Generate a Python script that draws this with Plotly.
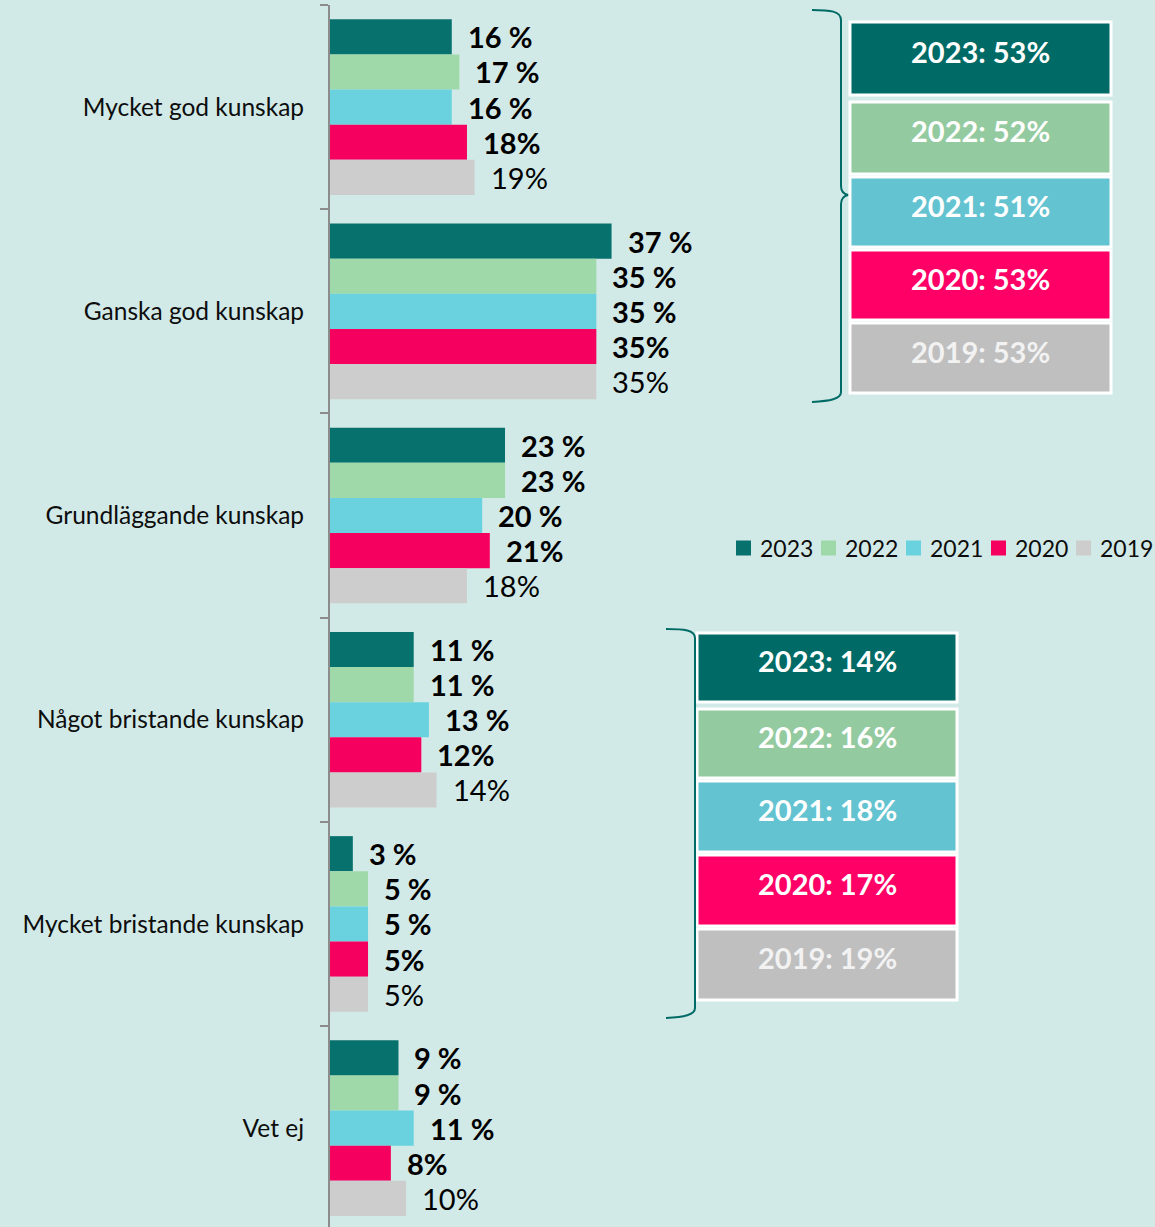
import plotly.graph_objects as go

# ---------------- data ----------------
categories = ["Mycket god kunskap", "Ganska god kunskap", "Grundläggande kunskap",
              "Något bristande kunskap", "Mycket bristande kunskap", "Vet ej"]
years = ["2023", "2022", "2021", "2020", "2019"]
v2023 = [16, 37, 23, 11, 3, 9]
v2022 = [17, 35, 23, 11, 5, 9]
v2021 = [16, 35, 20, 13, 5, 11]
v2020 = [18, 35, 21, 12, 5, 8]
v2019 = [19, 35, 18, 14, 5, 10]
series = [v2023, v2022, v2021, v2020, v2019]
label_fmt = ["{} %", "{} %", "{} %", "{}%", "{}%"]
label_bold = [True, True, True, True, False]

good_totals = [53, 52, 51, 53, 53]   # Mycket god + Ganska god
poor_totals = [14, 16, 18, 17, 19]   # Något + Mycket bristande

# ---------------- style ----------------
W, H = 1155, 1227
BG = "#D2EAE7"
bar_colors = ["#07716D", "#A0D9A9", "#6AD2DE", "#F5005E", "#CDCDCD"]
box_colors = ["#006B66", "#94CA9F", "#63C3D0", "#FF0066", "#BFBFBF"]
box_text_colors = ["#FFFFFF", "#FFFFFF", "#FFFFFF", "#FFFFFF", "#F2F2F2"]
FONT = "Lato"
AXIS_X = 330
PLOT_TOP = 5
X_MAX = (W - AXIS_X) / 7.61
Y_SPAN = 5.984
BARGAP = 0.14
cat_px = (H - PLOT_TOP) / Y_SPAN
bar_px = cat_px * (1 - BARGAP) / len(years)

# legend layout (pixels)
LEG_X0, LEG_STEP, LEG_Y, LEG_SQ, LEG_TXT_GAP = 736, 85, 548, 15, 22


def px(x):
    return x / W


def py(y):
    return 1 - y / H


fig = go.Figure()
for k, (yr, vals) in enumerate(zip(years, series)):
    fig.add_trace(go.Bar(
        y=categories, x=vals, orientation="h", name=yr, showlegend=False,
        marker=dict(color=bar_colors[k], line=dict(width=0)),
    ))

annotations = []
for k, vals in enumerate(series):
    for cat, v in zip(categories, vals):
        txt = label_fmt[k].format(v)
        if label_bold[k]:
            txt = "<b>" + txt + "</b>"
        annotations.append(dict(
            x=v, y=cat, xref="x", yref="y", text=txt, showarrow=False,
            xanchor="left", yanchor="middle", xshift=14,
            yshift=(2 - k) * bar_px,
            font=dict(family=FONT, size=29, color="#000000"),
        ))

shapes = []
# legend (squares + year labels)
for k, yr in enumerate(years):
    x0 = LEG_X0 + k * LEG_STEP
    shapes.append(dict(type="rect", xref="paper", yref="paper",
                       x0=px(x0), x1=px(x0 + LEG_SQ),
                       y0=py(LEG_Y + LEG_SQ / 2), y1=py(LEG_Y - LEG_SQ / 2),
                       fillcolor=bar_colors[k], line=dict(width=0)))
    annotations.append(dict(
        x=px(x0 + LEG_TXT_GAP), y=py(LEG_Y), xref="paper", yref="paper",
        text=yr, showarrow=False, xanchor="left", yanchor="middle",
        font=dict(family=FONT, size=23, color="#0D0D0D"),
    ))

# summary boxes
top_boxes = [(22, 95), (102, 174), (177, 247), (250, 320), (323, 393)]
bot_boxes = [(633, 702), (709, 778), (781, 852), (855, 926), (929, 1000)]
for (x0, x1, boxes, totals) in [(850, 1111, top_boxes, good_totals),
                                (697, 957, bot_boxes, poor_totals)]:
    for k, ((y0, y1), t) in enumerate(zip(boxes, totals)):
        shapes.append(dict(type="rect", xref="paper", yref="paper",
                           x0=px(x0), x1=px(x1), y0=py(y1), y1=py(y0),
                           fillcolor=box_colors[k],
                           line=dict(color="#FFFFFF", width=3), layer="above"))
        annotations.append(dict(
            x=px((x0 + x1) / 2), y=py((y0 + y1) / 2), xref="paper", yref="paper",
            text="<b>{}: {}%</b>".format(years[k], t), showarrow=False,
            xanchor="center", yanchor="middle", yshift=7,
            font=dict(family=FONT, size=29, color=box_text_colors[k]),
        ))


def path(cmds):
    out = []
    for c in cmds:
        if isinstance(c, str):
            out.append(c)
        else:
            out.append("{:.5f},{:.5f}".format(px(c[0]), py(c[1])))
    return " ".join(out)


brace_top = path(["M", (812, 10), "C", (830, 10), (841, 11), (841, 20),
                  "L", (841, 186), "C", (841, 192), (844, 194), (848, 195),
                  "C", (844, 196), (841, 198), (841, 204),
                  "L", (841, 392), "C", (841, 399), (830, 401), (812, 402)])
brace_bot = path(["M", (666, 629), "C", (684, 629), (695, 630), (695, 638),
                  "L", (695, 1008), "C", (695, 1015), (684, 1017), (666, 1018)])
for p in (brace_top, brace_bot):
    shapes.append(dict(type="path", xref="paper", yref="paper", path=p,
                       line=dict(color="#006B66", width=2)))

fig.update_layout(
    width=W, height=H, autosize=False,
    paper_bgcolor=BG, plot_bgcolor=BG,
    margin=dict(l=0, r=0, t=0, b=0, autoexpand=False),
    barmode="group", bargap=BARGAP, bargroupgap=0,
    font=dict(family=FONT, size=24.5, color="#0D0D0D"),
    xaxis=dict(domain=[px(AXIS_X), 1], range=[0, X_MAX], visible=False,
               fixedrange=True, automargin=False),
    yaxis=dict(domain=[0, py(PLOT_TOP)], type="category",
               categoryorder="array", categoryarray=categories,
               range=[-0.5 + Y_SPAN, -0.5], automargin=False,
               showline=True, linecolor="#8C8C8C", linewidth=2,
               ticks="outside", ticklen=8, tickwidth=2, tickcolor="#8C8C8C",
               tickson="boundaries", showgrid=False, zeroline=False,
               ticklabelstandoff=19,
               tickfont=dict(family=FONT, size=24.5, color="#0D0D0D")),
    annotations=annotations,
    shapes=shapes,
    showlegend=False,
)

fig.write_html(
    "out.html",
    config={"displayModeBar": False},
    post_script="document.body.style.margin='0px';document.body.style.overflow='hidden';",
)
